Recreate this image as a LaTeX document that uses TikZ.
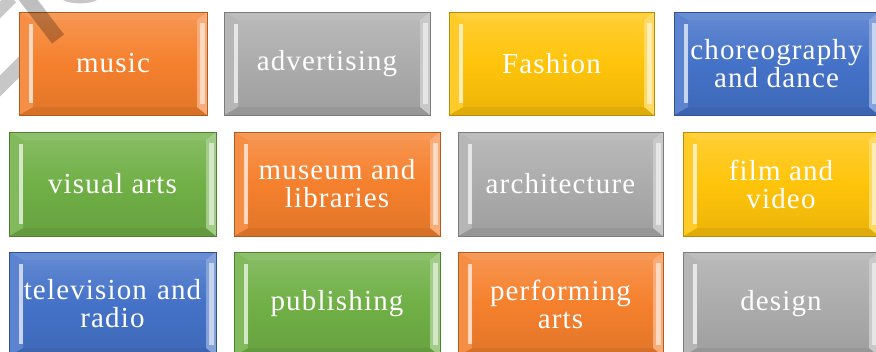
\documentclass[tikz,border=0pt]{standalone}
\usepackage{fontspec}
\newfontfamily\boxfont[LetterSpace=4]{Liberation Serif}
\definecolor{corange}{RGB}{245,128,45}
\definecolor{cgrey}{RGB}{172,172,172}
\definecolor{cyellow}{RGB}{255,196,10}
\definecolor{cblue}{RGB}{68,114,200}
\definecolor{cgreen}{RGB}{112,176,70}
\tikzset{
  bev/.style={
    draw=#1!72!black, line width=1pt,
    top color=#1!82!white, bottom color=#1!92!black, middle color=#1,
    text=white, align=center, inner sep=0pt, outer sep=0pt,
    font=\boxfont\fontsize{29}{28}\selectfont,
    path picture={
      \coordinate (nw) at (path picture bounding box.north west);
      \coordinate (ne) at (path picture bounding box.north east);
      \coordinate (sw) at (path picture bounding box.south west);
      \coordinate (se) at (path picture bounding box.south east);
      \coordinate (inw) at ([xshift=14pt,yshift=-8pt]nw);
      \coordinate (ine) at ([xshift=-10pt,yshift=-8pt]ne);
      \coordinate (isw) at ([xshift=14pt,yshift=8pt]sw);
      \coordinate (ise) at ([xshift=-10pt,yshift=8pt]se);
      \fill[#1!80!white] (nw) -- (ne) -- (ine) -- (inw) -- cycle;
      \fill[#1!88!black] (sw) -- (se) -- (ise) -- (isw) -- cycle;
      \fill[#1!88!white] (nw) -- (inw) -- (isw) -- (sw) -- cycle;
      \fill[#1!65!white] (ne) -- (ine) -- (ise) -- (se) -- cycle;
      \fill[#1!30!white] ([xshift=-4pt,yshift=-4pt]inw) rectangle ([yshift=4pt]isw);
      \fill[#1!30!white] ([xshift=7.5pt,yshift=-3pt]ine) rectangle ([xshift=3pt,yshift=3pt]ise);
    }
  }
}
\newcommand\catbox[7]{%
  \pgfmathsetmacro\cbw{#5-#3}\pgfmathsetmacro\cbh{#6-#4}%
  \pgfmathsetmacro\cbx{(#3+#5)/2}\pgfmathsetmacro\cby{(#4+#6)/2}%
  \node[bev=#2, minimum width=\cbw pt, minimum height=\cbh pt] (#1) at (\cbx,\cby) {#7};}
\begin{document}
\begin{tikzpicture}[x=1pt,y=-1pt]
\useasboundingbox (0,0) rectangle (876,351);
\clip (0,0) rectangle (876,351);
\fill[white] (0,0) rectangle (876,351);
% watermark pieces behind the boxes
\begin{scope}[black, opacity=0.22]
  \draw[line width=15pt] (-6,92) -- (26,60);
  \draw[line width=12pt] (-8,18) -- (12,-2);
  \fill (63,0) .. controls (70,4.5) and (90,4.5) .. (97,0) -- cycle;
\end{scope}
% row 1
\catbox{music}{corange}{19}{12}{207}{115}{music}
\catbox{advertising}{cgrey}{224}{12}{430}{115}{advertising}
\catbox{fashion}{cyellow}{449}{12}{654}{115}{Fashion}
\catbox{choreo}{cblue}{674}{12}{879}{115}{choreography\\and dance}
% row 2
\catbox{visual}{cgreen}{9}{132}{216}{236}{visual arts}
\catbox{museum}{corange}{234}{132}{440}{236}{museum and\\libraries}
\catbox{architecture}{cgrey}{458}{132}{663}{236}{architecture}
\catbox{film}{cyellow}{683}{132}{879}{236}{film and\\video}
% row 3
\catbox{television}{cblue}{9}{252}{216}{356}{television\hspace{10pt}and\\radio}
\catbox{publishing}{cgreen}{234}{252}{440}{356}{publishing}
\catbox{performing}{corange}{458}{252}{663}{356}{performing\\arts}
\catbox{design}{cgrey}{683}{252}{879}{356}{design}
% watermark band over the first box
\draw[black, opacity=0.25, line width=15pt] (19,-12) -- (58,39);
\end{tikzpicture}
\end{document}
